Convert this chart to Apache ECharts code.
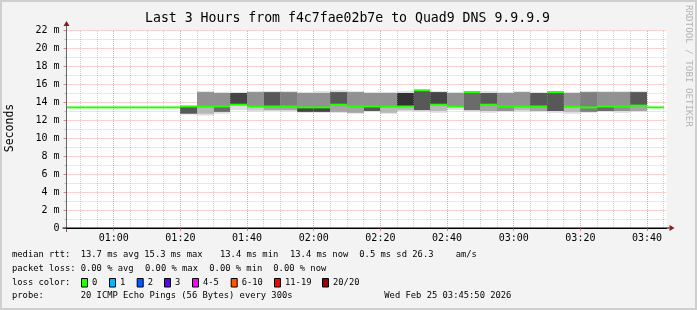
<!DOCTYPE html>
<html><head><meta charset="utf-8">
<script src="https://cdn.jsdelivr.net/npm/echarts@6/dist/echarts.min.js"></script>
<style>html,body{margin:0;padding:0;background:#f3f3f3;}#c{width:697px;height:310px;}</style>
</head><body><div id="c"></div>
<script>
// ---------- data ----------
const startTime = '00:45:50';
const endTime = '03:45:50';
const tickLabels = ['01:00','01:20','01:40','02:00','02:20','02:40','03:00','03:20','03:40'];
const binStart = ['00:45','00:50','00:55','01:00','01:05','01:10','01:15',
  '01:20','01:25','01:30','01:35','01:40','01:45','01:50','01:55',
  '02:00','02:05','02:10','02:15','02:20','02:25','02:30','02:35',
  '02:40','02:45','02:50','02:55','03:00','03:05','03:10','03:15',
  '03:20','03:25','03:30','03:35','03:40'];
// median rtt (ms)
const median = [13.4,13.4,13.4,13.4,13.4,13.4,13.4,
  13.5,13.5,13.5,13.7,13.5,13.5,13.5,13.4,
  13.4,13.7,13.5,13.5,13.5,13.5,15.3,13.7,
  13.5,15.1,13.7,13.5,13.5,13.5,15.1,13.5,
  13.4,13.5,13.5,13.6,13.4];
// smoke: lowest ping, bottom of lower band, top of upper band, highest ping (ms)
const pingMin = [null,null,null,null,null,null,null,
  12.6,12.5,12.7,13.1,12.9,13.0,12.9,12.8,
  12.8,12.8,12.7,12.9,12.7,13.0,12.9,12.8,
  13.1,12.9,12.8,12.9,12.9,12.9,12.8,12.7,
  12.8,12.9,12.8,12.9,null];
const lowBand = [null,null,null,null,null,null,null,
  12.7,12.7,12.9,13.3,13.1,13.1,13.1,12.9,
  12.9,12.9,12.8,13.0,12.8,13.1,13.1,13.0,
  13.3,13.1,13.0,13.0,13.1,13.0,13.0,12.9,
  12.9,13.0,13.0,13.0,null];
const highBand = [null,null,null,null,null,null,null,
  13.6,15.1,15.0,15.0,15.1,15.1,15.1,15.0,
  15.0,15.1,15.1,15.0,15.0,15.0,15.3,15.1,
  15.0,15.1,15.0,15.0,15.1,15.0,15.1,15.0,
  15.1,15.1,15.1,15.1,null];
const pingMax = [null,null,null,null,null,null,null,
  13.6,15.2,15.1,15.1,15.2,15.2,15.2,15.1,
  15.2,15.3,15.2,15.1,15.1,15.2,15.3,15.2,
  15.1,15.2,15.2,15.1,15.2,15.1,15.1,15.1,
  15.2,15.2,15.2,15.2,null];
// number of pings forming the band below / above the median (of 20)
const pingsBelow = [null,null,null,null,null,null,null,
  8,3,7,1,2,4,4,9, 9,4,4,8,3,3,8,3, 1,7,4,5,3,4,8,3, 6,7,5,4,null];
const pingsAbove = [null,null,null,null,null,null,null,
  0,5,5,9,5,8,6,5, 5,8,5,5,5,10,0,9, 5,0,8,5,5,8,0,5, 6,5,5,8,null];
const lossLabels = ['0','1','2','3','4-5','6-10','11-19','20/20'];
const lossColors = ['#26ff00','#00b8ff','#0059ff','#5e00ff','#ff00ff','#ff5500','#ff0000','#a10000'];

// ---------- helpers ----------
const toMin = s => { const p = s.split(':').map(Number); return p[0]*60 + p[1] + (p[2]||0)/60; };
const START = toMin(startTime), END = toMin(endTime);
const grey = k => { const v = Math.round(190/10*(10-Math.min(Math.max(k,1),10)) + 50); const h = v.toString(16).padStart(2,'0'); return '#'+h+h+h; };
const fmt = v => { const h = Math.floor(v/60), m = Math.round(v%60); return String(h).padStart(2,'0')+':'+String(m).padStart(2,'0'); };

const rows = binStart.map((t,i) => [toMin(t), toMin(t)+5, pingMin[i], lowBand[i], median[i], highBand[i], pingMax[i], pingsBelow[i], pingsAbove[i]]);
const smokeRows = rows.filter(r => r[2] != null);
const medRows = rows.map(r => [r[0], r[1], r[4]]);

const majorX = tickLabels.map(toMin);
const minorX = [];
for (let m = Math.ceil(START/5)*5; m <= END; m += 5) if (!majorX.includes(m)) minorX.push(m);

const FONT = 'DejaVu Sans Mono';
const chart = echarts.init(document.getElementById('c'), null, {renderer:'canvas'});

const option = {
  backgroundColor: '#f3f3f3',
  animation: false,
  grid: {left: 66.5, top: 30, width: 600, height: 198, show: true, backgroundColor: '#ffffff', borderWidth: 0,
         containLabel: false, outerBoundsMode: 'none'},
  xAxis: {
    type: 'value', min: START, max: END,
    axisLine: {show: true, lineStyle: {color: '#000', width: 1}},
    axisTick: {show: true, customValues: majorX, length: 3, lineStyle: {color: '#e08080'}},
    axisLabel: {customValues: majorX, formatter: v => fmt(v), fontFamily: FONT, fontSize: 10, color: '#000', margin: 5},
    splitLine: {show: false}
  },
  yAxis: {
    type: 'value', min: 0, max: 22, interval: 2,
    axisLine: {show: true, lineStyle: {color: '#666', width: 1}},
    axisTick: {show: true, length: 3, lineStyle: {color: '#e08080'}},
    axisLabel: {formatter: v => v === 0 ? '0' : v + ' m', fontFamily: FONT, fontSize: 10, color: '#000', margin: 7},
    splitLine: {show: true, lineStyle: {color: 'rgba(240,110,110,0.65)', type: [1,1], width: 1}},
    minorTick: {show: true, splitNumber: 2, length: 2, lineStyle: {color: '#bbb'}},
    minorSplitLine: {show: true, lineStyle: {color: 'rgba(150,150,150,0.45)', type: [1,1], width: 1}}
  },
  series: [
    {
      type: 'line', data: [[START, 0]], showSymbol: false, lineStyle: {opacity: 0}, z: 1, silent: true,
      markLine: {
        silent: true, symbol: 'none', label: {show: false}, animation: false,
        data: [
          ...minorX.map(x => ({xAxis: x, lineStyle: {color: 'rgba(150,150,150,0.45)', type: [1,1], width: 1}})),
          ...majorX.map(x => ({xAxis: x, lineStyle: {color: 'rgba(240,110,110,0.65)', type: [1,1], width: 1}}))
        ]
      }
    },
    {
      type: 'custom', clip: true, z: 3, silent: true,
      data: smokeRows,
      encode: {x: [0,1], y: [2,6]},
      renderItem: (params, api) => {
        const t0 = api.value(0), t1 = api.value(1);
        const mn = api.value(2), lo = api.value(3), md = api.value(4), hi = api.value(5), mx = api.value(6);
        const nb = api.value(7), na = api.value(8);
        const rect = (a, b, fill) => {
          const p0 = api.coord([t0, b]), p1 = api.coord([t1, a]);
          return {type: 'rect', shape: {x: Math.round(p0[0]), y: p0[1], width: Math.round(p1[0]) - Math.round(p0[0]), height: p1[1] - p0[1]}, style: {fill}};
        };
        const ch = [rect(mn, mx, grey(1))];
        if (nb > 0 && md > lo) ch.push(rect(lo, md, grey(nb)));
        if (na > 0 && hi > md) ch.push(rect(md, hi, grey(na)));
        return {type: 'group', children: ch};
      }
    },
    {
      type: 'custom', clip: true, z: 4, silent: true,
      data: medRows,
      encode: {x: [0,1], y: 2},
      renderItem: (params, api) => {
        const p0 = api.coord([api.value(0), api.value(2)]), p1 = api.coord([api.value(1), api.value(2)]);
        return {type: 'line', shape: {x1: Math.round(p0[0]), y1: p0[1], x2: Math.round(p1[0]), y2: p1[1]}, style: {stroke: lossColors[0], lineWidth: 2}};
      }
    }
  ]
};
chart.setOption(option);

// ---------- decorations & text ----------
const o = chart.convertToPixel({xAxisIndex: 0, yAxisIndex: 0}, [START, 0]);
const tr = chart.convertToPixel({xAxisIndex: 0, yAxisIndex: 0}, [END, 22]);
const txt = (x, y, s, extra) => ({type: 'text', x, y, style: Object.assign({text: s, font: '8.8px ' + FONT, fill: '#000', textVerticalAlign: 'middle'}, extra || {})});
const g = [
  {type: 'rect', shape: {x: 1, y: 1, width: 695, height: 308}, style: {fill: 'none', stroke: '#cfcfcf', lineWidth: 2}, z: 100},
  {type: 'line', shape: {x1: o[0], y1: o[1] + 4, x2: o[0], y2: tr[1] - 4}, style: {stroke: '#666', lineWidth: 1}, z: 50},
  {type: 'line', shape: {x1: o[0] - 4, y1: o[1], x2: tr[0] + 3, y2: o[1]}, style: {stroke: '#000', lineWidth: 1}, z: 50},
  {type: 'polygon', shape: {points: [[o[0] - 3, tr[1] - 4], [o[0] + 3, tr[1] - 4], [o[0], tr[1] - 9]]}, style: {fill: '#8b1a1a'}, z: 50},
  {type: 'polygon', shape: {points: [[tr[0] + 3, o[1] - 3], [tr[0] + 3, o[1] + 3], [tr[0] + 8, o[1]]]}, style: {fill: '#8b1a1a'}, z: 50},
  {type: 'text', x: 347.5, y: 19, style: {text: 'Last 3 Hours from f4c7fae02b7e to Quad9 DNS 9.9.9.9', font: '13.2px ' + FONT, fill: '#000', textAlign: 'center', textVerticalAlign: 'middle'}},
  {type: 'text', x: 10, y: 128, rotation: Math.PI/2, style: {text: 'Seconds', font: '11.5px ' + FONT, fill: '#000', textAlign: 'center', textVerticalAlign: 'middle'}},
  {type: 'text', x: 688, y: 5, rotation: -Math.PI/2, style: {text: 'RRDTOOL / TOBI OETIKER', font: '9.2px ' + FONT, fill: '#b4b4b4', textAlign: 'left', textVerticalAlign: 'middle'}},
  txt(12, 254.7, 'median rtt:'), txt(80.7, 254.7, '13.7 ms avg'), txt(144.3, 254.7, '15.3 ms max'),
  txt(220, 254.7, '13.4 ms min'), txt(290, 254.7, '13.4 ms now'), txt(359.3, 254.7, '0.5 ms sd'),
  txt(412.3, 254.7, '26.3'), txt(455.7, 254.7, 'am/s'),
  txt(12, 268.3, 'packet loss:'), txt(80.7, 268.3, '0.00 % avg'), txt(145, 268.3, '0.00 % max'),
  txt(209.3, 268.3, '0.00 % min'), txt(273.3, 268.3, '0.00 % now'),
  txt(12, 282.7, 'loss color:'),
  txt(12, 296, 'probe:'), txt(80.7, 296, '20 ICMP Echo Pings (56 Bytes) every 300s'),
  txt(384.3, 296, 'Wed Feb 25 03:45:50 2026')
];
const boxX = [81, 109, 136.7, 164, 192, 230.7, 274, 322];
lossLabels.forEach((l, i) => {
  g.push({type: 'rect', shape: {x: boxX[i] + 0.5, y: 278.5, width: 6, height: 8.5}, style: {fill: lossColors[i], stroke: '#000', lineWidth: 1}});
  g.push(txt(boxX[i] + 11, 282.7, l));
});
chart.setOption({graphic: {elements: g}});
</script></body></html>
